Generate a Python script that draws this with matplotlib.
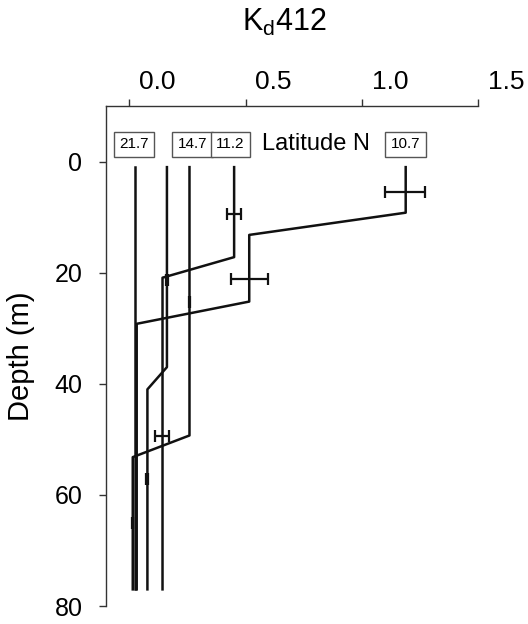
import numpy as np
import matplotlib
matplotlib.use("Agg")
import matplotlib.pyplot as plt
from matplotlib.transforms import ScaledTranslation

plt.rcParams['font.family'] = ['Liberation Sans', 'DejaVu Sans']
plt.rcParams['mathtext.default'] = 'regular'

# profiles: Kd412 vs depth, one per station
depth_21_7 = [1, 77]
kd_21_7 = [0.025, 0.025]

depth_x = [1, 37, 41, 77]
kd_x = [0.162, 0.162, 0.078, 0.078]

depth_14_7 = [1, 49.3, 53.2, 77]
kd_14_7 = [0.259, 0.259, 0.015, 0.015]

depth_11_2 = [1, 17.2, 20.9, 77]
kd_11_2 = [0.451, 0.451, 0.143, 0.143]

depth_10_7 = [1, 9.2, 13.2, 25.2, 29.2, 77]
kd_10_7 = [1.189, 1.189, 0.516, 0.516, 0.032, 0.032]

# layer means +/- sd
err_depth = [21.4, 57.2, 25.3, 65.0, 9.4, 49.4, 5.4, 21.2]
err_mean = [0.162, 0.078, 0.259, 0.015, 0.451, 0.142, 1.187, 0.517]
err_sd = [0.004, 0.004, 0.003, 0.003, 0.029, 0.030, 0.086, 0.079]

lat_labels = ['21.7', '14.7', '11.2', '10.7']
lat_x = [0.020, 0.272, 0.435, 1.188]
lat_depth = -3.1

xticks = [0.0, 0.5, 1.0, 1.5]
yticks = [0, 20, 40, 60, 80]

fig = plt.figure(figsize=(5.28, 6.24), dpi=100)
ax = fig.add_axes([0.2008, 0.0288, 0.7045, 0.8013])

for d, k in [(depth_21_7, kd_21_7), (depth_x, kd_x), (depth_14_7, kd_14_7),
             (depth_11_2, kd_11_2), (depth_10_7, kd_10_7)]:
    ax.plot(k, d, color='#111111', lw=1.8)

ax.errorbar(err_mean, err_depth, xerr=err_sd, fmt='none', ecolor='#111111',
            elinewidth=1.6, capsize=4, capthick=1.6)

for lab, x in zip(lat_labels, lat_x):
    ax.text(x, lat_depth, lab, ha='center', va='center', fontsize=11,
            bbox=dict(boxstyle='square,pad=0.35', fc='white', ec='#555555', lw=1))
ax.text(0.572, lat_depth, 'Latitude N', ha='left', va='center', fontsize=17)

ax.set_xlim(-0.1, 1.5)
ax.set_ylim(80, -10)
ax.xaxis.tick_top()
ax.set_xticks(xticks)
ax.set_xticklabels(['%.1f' % t for t in xticks])
ax.set_yticks(yticks)
ax.tick_params(axis='x', labelsize=19, length=5, width=1, color='#333333', pad=4)
ax.tick_params(axis='y', labelsize=18, length=5, width=1, color='#333333', pad=12)
for spine in ['bottom', 'right']:
    ax.spines[spine].set_visible(False)
for spine in ['top', 'left']:
    ax.spines[spine].set_color('#333333')
    ax.spines[spine].set_linewidth(1)

# tick labels on the original sit a little right of their ticks
shift = ScaledTranslation(0.28, 0, fig.dpi_scale_trans)
for lbl in ax.get_xticklabels():
    lbl.set_transform(lbl.get_transform() + shift)

ax.set_ylabel('Depth (m)', fontsize=21)
ax.yaxis.set_label_coords(-0.19, 0.5)

fig.text(0.538, 0.950, r'K$_{d}$412', ha='center', va='baseline', fontsize=22)

fig.savefig('out.png', dpi=100)
